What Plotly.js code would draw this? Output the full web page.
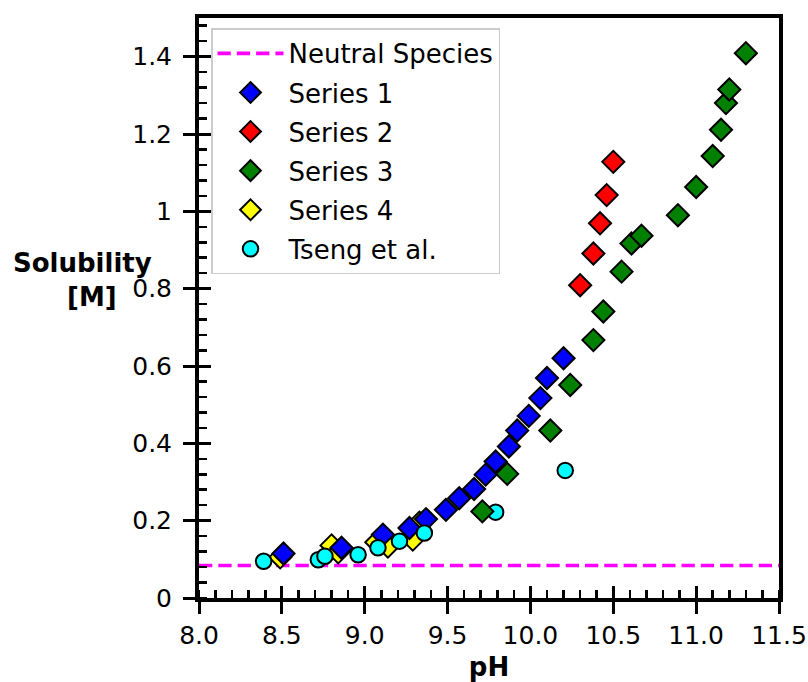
<!DOCTYPE html>
<html>
<head>
<meta charset="utf-8">
<script src="https://cdn.plot.ly/plotly-3.0.1.min.js"></script>
<style>html,body{margin:0;padding:0;background:#fff;}#chart{width:808px;height:682px;}</style>
</head>
<body>
<div id="chart"></div>
<script>
// ---- data ----
const neutralX = [8.0, 11.5];
const neutralY = [0.084, 0.084];

const series1X = [8.51, 8.86, 9.11, 9.27, 9.37, 9.49, 9.57, 9.66, 9.73, 9.79, 9.87, 9.92, 9.99, 10.06, 10.10, 10.20];
const series1Y = [0.115, 0.130, 0.164, 0.181, 0.204, 0.228, 0.258, 0.282, 0.319, 0.353, 0.392, 0.433, 0.471, 0.517, 0.569, 0.620];

const series2X = [10.30, 10.38, 10.42, 10.46, 10.50];
const series2Y = [0.809, 0.891, 0.969, 1.042, 1.128];

const series3X = [9.71, 9.86, 10.12, 10.24, 10.38, 10.44, 10.55, 10.61, 10.67, 10.89, 11.00, 11.10, 11.15, 11.18, 11.20, 11.30];
const series3Y = [0.224, 0.321, 0.433, 0.551, 0.667, 0.741, 0.844, 0.917, 0.937, 0.990, 1.063, 1.143, 1.211, 1.280, 1.315, 1.409];

const series4X = [8.49, 8.80, 8.84, 9.07, 9.14, 9.29, 9.33];
const series4Y = [0.105, 0.136, 0.118, 0.144, 0.133, 0.151, 0.195];

const tsengX = [8.39, 8.72, 8.76, 8.96, 9.08, 9.21, 9.36, 9.79, 10.21];
const tsengY = [0.095, 0.099, 0.108, 0.112, 0.130, 0.147, 0.168, 0.222, 0.330];

const xTickVals = [8.0, 8.5, 9.0, 9.5, 10.0, 10.5, 11.0, 11.5];
const yTickVals = [0, 0.2, 0.4, 0.6, 0.8, 1.0, 1.2, 1.4];
const yTickText = ['0', '0.2', '0.4', '0.6', '0.8', '1', '1.2', '1.4'];

// ---- styling ----
const FONT = 'DejaVu Sans, sans-serif';
const DSIZE = 17;
const CSIZE = 15.5;
const OUT = {color: 'black', width: 2};

function diamond(name, x, y, color, rank) {
  return {type: 'scatter', mode: 'markers', name: name, x: x, y: y,
    legendgroup: name, legendrank: rank,
    marker: {symbol: 'diamond', size: DSIZE, color: color, line: OUT}};
}

const traces = [
  {type: 'scatter', mode: 'lines', name: 'Neutral Species', x: neutralX, y: neutralY,
    legendgroup: 'n', legendrank: 1,
    line: {color: '#ff00ff', width: 3.6, dash: '13.3px,6px'}},
  diamond('Series 4', series4X, series4Y, '#ffff00', 5),
  diamond('Series 1', series1X, series1Y, '#0000ff', 2),
  {type: 'scatter', mode: 'markers', name: 'Tseng et al.', x: tsengX, y: tsengY,
    legendgroup: 't', legendrank: 6,
    marker: {symbol: 'circle', size: CSIZE, color: '#00ffff', line: OUT}},
  diamond('Series 3', series3X, series3Y, '#008000', 4),
  diamond('Series 2', series2X, series2Y, '#ff0000', 3),
  // dummy traces for inner major-tick overlay axes
  {type: 'scatter', mode: 'markers', x: [null], y: [null], xaxis: 'x2', yaxis: 'y', showlegend: false, hoverinfo: 'skip'},
  {type: 'scatter', mode: 'markers', x: [null], y: [null], xaxis: 'x', yaxis: 'y2', showlegend: false, hoverinfo: 'skip'}
];

const tickFont = {family: FONT, size: 25, color: 'black'};

const layout = {
  width: 808, height: 682,
  margin: {l: 199, r: 29, t: 17.5, b: 83.5, pad: 0},
  paper_bgcolor: 'white', plot_bgcolor: 'white',
  font: {family: FONT, color: 'black'},
  showlegend: true,
  xaxis: {
    range: [8.0, 11.5], tickmode: 'array', tickvals: xTickVals, ticktext: xTickVals.map(v => v.toFixed(1)),
    showgrid: false, zeroline: false, showline: true, linewidth: 4, linecolor: 'black', mirror: true,
    ticks: 'outside', ticklen: 12, tickwidth: 3, tickcolor: 'black', tickfont: tickFont,
    ticklabelstandoff: 0,
    minor: {ticks: 'inside', ticklen: 8, tickwidth: 2.5, tickcolor: 'black', dtick: 0.1, showgrid: false},
    title: {text: 'pH', font: {family: FONT, size: 26, weight: 'bold', color: 'black'}, standoff: 10}
  },
  yaxis: {
    range: [0, 1.5], tickmode: 'array', tickvals: yTickVals, ticktext: yTickText,
    showgrid: false, zeroline: false, showline: true, linewidth: 4, linecolor: 'black', mirror: true,
    ticks: 'outside', ticklen: 12, tickwidth: 3, tickcolor: 'black', tickfont: tickFont,
    ticklabelstandoff: 6,
    minor: {ticks: 'inside', ticklen: 8, tickwidth: 2.5, tickcolor: 'black', dtick: 0.04, tick0: 0, showgrid: false}
  },
  xaxis2: {
    overlaying: 'x', anchor: 'y', side: 'bottom', range: [8.0, 11.5],
    tickmode: 'array', tickvals: xTickVals, showticklabels: false,
    ticks: 'inside', ticklen: 12, tickwidth: 3, tickcolor: 'black',
    showgrid: false, zeroline: false, showline: false
  },
  yaxis2: {
    overlaying: 'y', anchor: 'x', side: 'left', range: [0, 1.5],
    tickmode: 'array', tickvals: yTickVals, showticklabels: false,
    ticks: 'inside', ticklen: 12, tickwidth: 3, tickcolor: 'black',
    showgrid: false, zeroline: false, showline: false
  },
  legend: {
    x: 0.0207, y: 0.982, xanchor: 'left', yanchor: 'top',
    bgcolor: 'white', bordercolor: '#cccccc', borderwidth: 1.5,
    font: {family: FONT, size: 26, color: 'black'},
    itemwidth: 66, tracegroupgap: 2.3, traceorder: 'grouped'
  },
  annotations: [
    {text: 'Solubility', xref: 'paper', yref: 'paper', x: -0.2009, y: 0.5775, xanchor: 'center', yanchor: 'middle',
      showarrow: false, font: {family: FONT, size: 26, weight: 'bold', color: 'black'}},
    {text: '[M]', xref: 'paper', yref: 'paper', x: -0.1845, y: 0.519, xanchor: 'center', yanchor: 'middle',
      showarrow: false, font: {family: FONT, size: 26, weight: 'bold', color: 'black'}}
  ]
};

Plotly.newPlot('chart', traces, layout, {staticPlot: true, displayModeBar: false});
</script>
</body>
</html>
